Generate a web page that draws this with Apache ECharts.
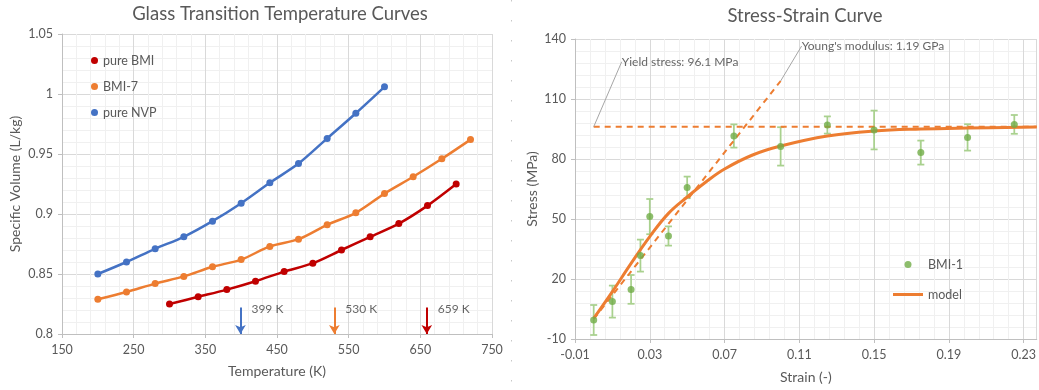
<!DOCTYPE html>
<html>
<head>
<meta charset="utf-8">
<title>Glass transition and stress-strain curves</title>
<script src="https://cdn.jsdelivr.net/npm/echarts@6/dist/echarts.min.js"></script>
<style>
  html, body { margin: 0; padding: 0; background: #fff; }
  #chart { width: 1039px; height: 390px; }
</style>
</head>
<body>
<div id="chart"></div>
<script>
// left chart: specific volume vs temperature
const tempBMI = [300, 340, 380, 420, 460, 500, 540, 580, 620, 660, 700]
const volBMI = [0.825, 0.831, 0.837, 0.844, 0.852, 0.859, 0.870, 0.881, 0.892, 0.907, 0.925]
const tempBMI7 = [200, 240, 280, 320, 360, 400, 440, 480, 520, 560, 600, 640, 680, 720]
const volBMI7 = [0.829, 0.835, 0.842, 0.848, 0.856, 0.862, 0.873, 0.879, 0.891, 0.901, 0.917, 0.931, 0.946, 0.962]
const tempNVP = [200, 240, 280, 320, 360, 400, 440, 480, 520, 560, 600]
const volNVP = [0.850, 0.860, 0.871, 0.881, 0.894, 0.909, 0.926, 0.942, 0.963, 0.984, 1.006]
const tgTemps = [399, 530, 659]
const tgLabels = ['399 K', '530 K', '659 K']
const tgFrom = [0.822, 0.822, 0.822]
const tgTo = [0.8, 0.8, 0.8]

// right chart: stress vs strain
const strain = [0, 0.01, 0.02, 0.025, 0.03, 0.04, 0.05, 0.075, 0.1, 0.125, 0.15, 0.175, 0.2, 0.225]
const stress = [-0.5, 8.7, 14.8, 31.7, 51.2, 41.5, 65.8, 91.5, 86.3, 97, 94.5, 83.2, 90.8, 97.3]
const stressErr = [7.5, 8, 7.2, 8, 8.8, 4.8, 5.4, 5.8, 9.6, 4.3, 9.7, 6, 6.6, 4.7]
const modelStrain = [0, 0.01, 0.02, 0.03, 0.04, 0.05, 0.06, 0.07, 0.085, 0.1, 0.125, 0.15, 0.175, 0.2, 0.237]
const modelStress = [0.3, 13.7, 27.8, 41.2, 52.8, 61, 68.5, 75, 82, 86.5, 91.5, 94, 95, 95.5, 96]
const youngStrain = [0, 0.1]
const youngStress = [0, 119]
const yieldStrain = [0, 0.237]
const yieldStress = [96.1, 96.1]
const noteStrain = [0, 0.1]
const noteStress = [96.1, 119]
const noteText = ['Yield stress: 96.1 MPa', "Young's modulus: 1.19 GPa"]

const FONT = 'Lato'
const GREY = '#595959'
const BLUE = '#4472c4'
const ORANGE = '#ed7d31'
const RED = '#c00000'
const GREEN = '#70ad47'

const zip = (xs, ys) => xs.map((x, i) => [x, ys[i]])

function axisStyle(extra) {
  return Object.assign({
    type: 'value',
    axisLine: { show: true, onZero: false, lineStyle: { color: '#bfbfbf' } },
    axisTick: { show: true, length: 4, lineStyle: { color: '#bfbfbf' } },
    axisLabel: { color: GREY, fontFamily: FONT, fontSize: 12.5, margin: 9 },
    splitLine: { show: true, lineStyle: { color: '#d9d9d9' } },
    minorTick: { show: false, splitNumber: 5 },
    minorSplitLine: { show: true, lineStyle: { color: '#f0f0f0' } },
    nameLocation: 'middle',
    nameTextStyle: { color: GREY, fontFamily: FONT, fontSize: 14 }
  }, extra)
}

function glassSeries(name, color, xs, ys) {
  return {
    name: name,
    type: 'line',
    xAxisIndex: 0,
    yAxisIndex: 0,
    data: zip(xs, ys),
    smooth: 0.3,
    symbol: 'circle',
    symbolSize: 7,
    itemStyle: { color: color },
    lineStyle: { color: color, width: 2.5 },
    z: 3
  }
}

const chart = echarts.init(document.getElementById('chart'))

chart.setOption({
  animation: false,
  backgroundColor: '#fff',
  textStyle: { fontFamily: FONT },
  title: [
    {
      text: 'Glass Transition Temperature Curves',
      left: 275, top: 0, textAlign: 'center',
      textStyle: { color: GREY, fontFamily: FONT, fontSize: 18.5, fontWeight: 'normal' }
    },
    {
      text: 'Stress-Strain Curve',
      left: 800, top: 2, textAlign: 'center',
      textStyle: { color: GREY, fontFamily: FONT, fontSize: 18.5, fontWeight: 'normal' }
    }
  ],
  legend: [
    {
      data: ['pure BMI', 'BMI-7', 'pure NVP'],
      orient: 'vertical', left: 86, top: 49,
      icon: 'circle', itemWidth: 7, itemHeight: 7, itemGap: 13,
      textStyle: { color: GREY, fontFamily: FONT, fontSize: 12.5 }
    },
    {
      data: [
        { name: 'BMI-1', icon: 'circle' },
        { name: 'model', icon: 'path://M0,0H30V3H0Z' }
      ],
      orient: 'vertical', left: 888, top: 253,
      itemWidth: 30, itemHeight: 7, itemGap: 17,
      textStyle: { color: GREY, fontFamily: FONT, fontSize: 12.5 }
    }
  ],
  grid: [
    { left: 62, right: 547, top: 34, bottom: 56 },
    { left: 575, right: 0, top: 39, bottom: 51 }
  ],
  xAxis: [
    axisStyle({
      gridIndex: 0, min: 150, max: 750, interval: 100,
      name: 'Temperature (K)', nameGap: 30
    }),
    axisStyle({
      gridIndex: 1, min: -0.01, max: 0.237, interval: 0.04,
      name: 'Strain (-)', nameGap: 31,
      axisLabel: {
        color: GREY, fontFamily: FONT, fontSize: 12.5, margin: 9, showMaxLabel: false,
        formatter: v => v.toFixed(2)
      }
    })
  ],
  yAxis: [
    axisStyle({
      gridIndex: 0, min: 0.8, max: 1.05, interval: 0.05,
      name: 'Specific Volume (L/kg)', nameGap: 40,
      axisLabel: {
        color: GREY, fontFamily: FONT, fontSize: 12.5, margin: 9,
        formatter: v => String(+v.toFixed(2))
      }
    }),
    axisStyle({
      gridIndex: 1, min: -10, max: 140, interval: 30,
      name: 'Stress (MPa)', nameGap: 36
    })
  ],
  graphic: [
    {
      type: 'line', silent: true,
      shape: { x1: 511.5, y1: 0, x2: 511.5, y2: 390 },
      style: { stroke: '#c8c8c8', lineWidth: 1, lineDash: [1.5, 18.5] }
    }
  ],
  series: [
    glassSeries('pure BMI', RED, tempBMI, volBMI),
    glassSeries('BMI-7', ORANGE, tempBMI7, volBMI7),
    glassSeries('pure NVP', BLUE, tempNVP, volNVP),
    {
      name: 'Tg',
      type: 'scatter',
      xAxisIndex: 0,
      yAxisIndex: 0,
      data: tgTemps.map((t, i) => ({ value: [t, tgFrom[i]], name: tgLabels[i] })),
      symbolSize: 0,
      label: {
        show: true, position: 'right', distance: 11, offset: [0, 2],
        formatter: p => p.name,
        color: '#404040', fontFamily: FONT, fontSize: 12
      },
      markLine: {
        silent: true,
        symbol: ['none', 'arrow'],
        symbolSize: [8, 9],
        label: { show: false },
        lineStyle: { type: 'solid', width: 2 },
        data: tgTemps.map((t, i) => [
          { coord: [t, tgFrom[i]], lineStyle: { color: [BLUE, ORANGE, RED][i] }, itemStyle: { color: [BLUE, ORANGE, RED][i] } },
          { coord: [t, tgTo[i]] }
        ])
      },
      z: 4
    },
    {
      name: 'error',
      type: 'custom',
      xAxisIndex: 1,
      yAxisIndex: 1,
      data: strain.map((s, i) => [s, stress[i] - stressErr[i], stress[i] + stressErr[i]]),
      encode: { x: 0, y: [1, 2] },
      renderItem: (params, api) => {
        const lo = api.coord([api.value(0), api.value(1)])
        const hi = api.coord([api.value(0), api.value(2)])
        const w = 3.5
        const style = { stroke: '#a9d18e', lineWidth: 1.75 }
        return {
          type: 'group',
          children: [
            { type: 'line', shape: { x1: lo[0], y1: lo[1], x2: hi[0], y2: hi[1] }, style: style },
            { type: 'line', shape: { x1: lo[0] - w, y1: lo[1], x2: lo[0] + w, y2: lo[1] }, style: style },
            { type: 'line', shape: { x1: hi[0] - w, y1: hi[1], x2: hi[0] + w, y2: hi[1] }, style: style }
          ]
        }
      },
      z: 2
    },
    {
      name: 'yield',
      type: 'line',
      xAxisIndex: 1,
      yAxisIndex: 1,
      data: zip(yieldStrain, yieldStress),
      symbol: 'none',
      lineStyle: { color: ORANGE, width: 2, type: [6, 5] },
      z: 3
    },
    {
      name: 'young',
      type: 'line',
      xAxisIndex: 1,
      yAxisIndex: 1,
      data: zip(youngStrain, youngStress),
      symbol: 'none',
      lineStyle: { color: ORANGE, width: 2, type: [6, 5] },
      z: 3
    },
    {
      name: 'model',
      type: 'line',
      xAxisIndex: 1,
      yAxisIndex: 1,
      data: zip(modelStrain, modelStress),
      smooth: 0.4,
      symbol: 'none',
      itemStyle: { color: ORANGE },
      lineStyle: { color: ORANGE, width: 3 },
      z: 3
    },
    {
      name: 'BMI-1',
      type: 'scatter',
      xAxisIndex: 1,
      yAxisIndex: 1,
      data: zip(strain, stress),
      symbolSize: 7,
      itemStyle: { color: GREEN },
      z: 5
    },
    {
      name: 'notes',
      type: 'scatter',
      xAxisIndex: 1,
      yAxisIndex: 1,
      data: noteStrain.map((s, i) => ({ value: [s, noteStress[i]], name: noteText[i] })),
      symbolSize: 0,
      silent: true,
      label: {
        show: true, position: 'right', distance: 5,
        formatter: p => p.name,
        color: '#404040', fontFamily: FONT, fontSize: 12
      },
      labelLayout: p => (p.dataIndex === 0 ? { dx: 23, dy: -65 } : { dx: 16, dy: -35 }),
      labelLine: { show: true, length2: 6, lineStyle: { color: '#a6a6a6', width: 1 } },
      z: 6
    }
  ]
})
</script>
</body>
</html>
